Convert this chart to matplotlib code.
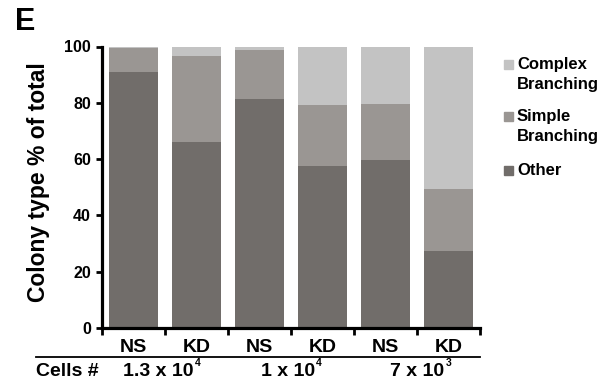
import numpy as np
import matplotlib
matplotlib.use("Agg")
import matplotlib.pyplot as plt
from matplotlib.lines import Line2D
from matplotlib.patches import Rectangle
from matplotlib.transforms import blended_transform_factory

plt.rcParams['font.family'] = ['Liberation Sans', 'DejaVu Sans']
plt.rcParams['font.weight'] = 'bold'

# data (percent of total colonies)
conditions = ['NS', 'KD', 'NS', 'KD', 'NS', 'KD']
other = [91.0, 66.0, 81.3, 57.5, 59.6, 27.2]
simple = [8.5, 30.8, 17.3, 21.6, 19.9, 22.1]
complex_ = [0.5, 3.2, 1.4, 20.9, 20.5, 50.7]
cell_base = ['1.3 x 10', '1 x 10', '7 x 10']
cell_exp = ['4', '4', '3']

col_other = '#716d6a'
col_simple = '#9a9693'
col_complex = '#c3c3c3'

W, H = 614, 387
fig = plt.figure(figsize=(W / 100, H / 100), dpi=100)
ax = fig.add_axes([102 / W, 1 - 328 / H, 378 / W, (328 - 46.5) / H])

x = np.arange(len(conditions)) + 0.5
other = np.array(other)
simple = np.array(simple)
complex_ = np.array(complex_)
ax.bar(x, other, width=0.78, color=col_other)
ax.bar(x, simple, width=0.78, bottom=other, color=col_simple)
ax.bar(x, complex_, width=0.78, bottom=other + simple, color=col_complex)

ax.set_xlim(0, 6)
ax.set_ylim(0, 100)
ax.set_yticks([0, 20, 40, 60, 80, 100])
ax.tick_params(axis='y', labelsize=11.5, width=2, length=4, pad=4)

ax.set_xticks(np.arange(7))
ax.set_xticklabels([])
ax.tick_params(axis='x', which='major', width=2, length=5)
ax.set_xticks(x, minor=True)
ax.set_xticklabels(conditions, minor=True, fontsize=14, fontweight='bold')
ax.tick_params(axis='x', which='minor', length=0, pad=8)

for s in ['top', 'right']:
    ax.spines[s].set_visible(False)
for s in ['left', 'bottom']:
    ax.spines[s].set_linewidth(2.3)

fig.text(39 / W, 1 - 182 / H, 'Colony type % of total', rotation=90,
         fontsize=16.5, fontweight='bold', ha='center', va='center')

# group line and cell numbers
fig.add_artist(Line2D([36 / W, 480 / W], [1 - 357 / H, 1 - 357 / H],
                      transform=fig.transFigure, color='black', lw=1.3))
fig.text(36 / W, 1 - 372 / H, 'Cells #', fontsize=14, fontweight='bold',
         va='center', ha='left')
tr = blended_transform_factory(ax.transData, fig.transFigure)
for xi, base, ex in zip([0.9, 2.95, 5.0], cell_base, cell_exp):
    t = ax.text(xi, 1 - 372 / H, base, transform=tr, fontsize=14,
                fontweight='bold', ha='center', va='center', clip_on=False)
    ax.annotate(ex, xy=(1, 1), xycoords=t, xytext=(1, 0),
                textcoords='offset points', fontsize=7.5, fontweight='bold',
                ha='left', va='center', annotation_clip=False)

fig.text(15 / W, 1 - 22 / H, 'E', fontsize=22, fontweight='bold',
         va='center', ha='left')

# legend
leg = [(col_complex, ['Complex', 'Branching'], [64.5, 85]),
       (col_simple, ['Simple', 'Branching'], [116.5, 136.5]),
       (col_other, ['Other'], [170])]
for c, lines, ys in leg:
    fig.add_artist(Rectangle((504 / W, 1 - (ys[0] + 4.5) / H), 9 / W, 9 / H,
                             transform=fig.transFigure, color=c))
    for line, ypix in zip(lines, ys):
        fig.text(517 / W, 1 - ypix / H, line, fontsize=12,
                 fontweight='bold', va='center', ha='left')

fig.savefig('out.png', dpi=100)
